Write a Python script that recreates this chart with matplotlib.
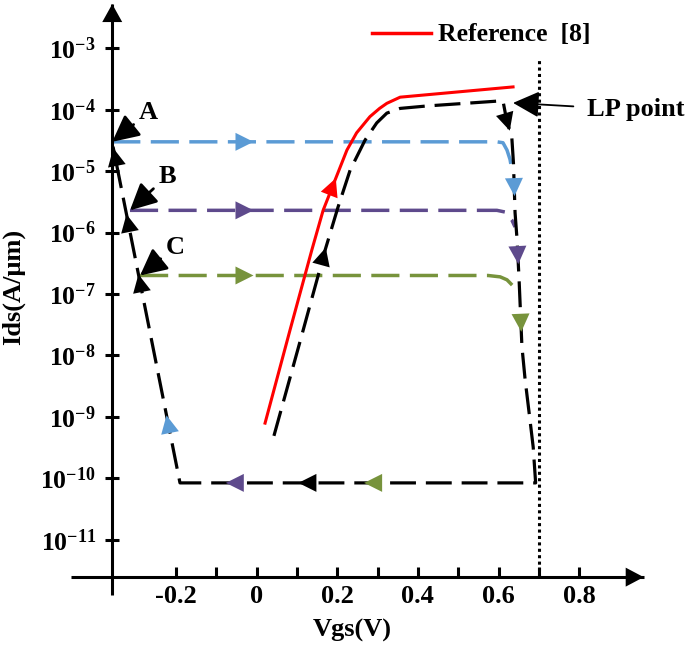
import numpy as np
import matplotlib.pyplot as plt
from matplotlib.patches import Polygon
from matplotlib.transforms import IdentityTransform
from matplotlib.lines import Line2D
from matplotlib.ticker import NullLocator

plt.rcParams.update({
    "font.family": "Liberation Serif",
    "font.weight": "bold",
    "mathtext.fontset": "custom",
    "mathtext.rm": "Liberation Serif:bold",
    "mathtext.bf": "Liberation Serif:bold",
    "mathtext.default": "bf",
})

BLUE, PURPLE, GREEN, RED = "#5B9BD5", "#5E4A8C", "#77933C", "#FF0000"

# Reference [8] transfer curve
ref_vgs = [0.021, 0.083, 0.137, 0.165, 0.190, 0.224, 0.248, 0.281, 0.305, 0.323, 0.356, 0.636]
ref_ids = [7.9e-10, 2.6e-8, 5.2e-7, 2.3e-6, 6.0e-6, 2.2e-5, 4.2e-5, 7.7e-5, 1.05e-4,
           1.27e-4, 1.6e-4, 2.35e-4]

# black dashed loop, split in pieces
rise_vgs = [0.043, 0.109, 0.170, 0.202, 0.232, 0.269, 0.298, 0.323, 0.356, 0.422, 0.611]
rise_ids = [4.9e-10, 1.8e-8, 5.2e-7, 2.6e-6, 1.04e-5, 3.2e-5, 6.1e-5, 8.8e-5, 1.05e-4, 1.15e-4, 1.4e-4]
fall_vgs = [0.611, 0.620, 0.633, 0.637, 0.641, 0.646, 0.651, 0.658, 0.666, 0.678, 0.686, 0.692]
fall_ids = [1.4e-4, 6.8e-5, 3.5e-5, 1.36e-5, 2.1e-6, 7.6e-7, 1.7e-7, 1.4e-8, 4.0e-9, 8.9e-10, 3.2e-10, 8.4e-11]
bottom_vgs = [0.692, -0.190]
bottom_ids = [8.4e-11, 8.4e-11]
left_vgs = [-0.190, -0.356]
left_ids = [8.4e-11, 2.5e-5]

# states A, B, C
a_vgs = [-0.358, 0.596, 0.611, 0.621, 0.6285, 0.633]
a_ids = [3e-5, 3e-5, 2.9e-5, 2.2e-5, 1.55e-5, 1.05e-5]
b_vgs = [-0.314, 0.596, 0.616, 0.633, 0.641]
b_ids = [2.3e-6, 2.3e-6, 2.16e-6, 1.6e-6, 1.23e-6]
c_vgs = [-0.289, 0.574, 0.604, 0.621, 0.636, 0.646]
c_ids = [2e-7, 2e-7, 1.9e-7, 1.7e-7, 1.35e-7, 1.08e-7]

lp_vgs = 0.7
lp_top = 6.9e-4
lp_point = (0.636, 1.29e-4)

decades = [-3, -4, -5, -6, -7, -8, -9, -10, -11]
xticks = [-0.2, 0, 0.2, 0.4, 0.6, 0.8]
xtick_labels = ["-0.2", "0", "0.2", "0.4", "0.6", "0.8"]
xminor = [-0.1, 0.1, 0.3, 0.5, 0.7]

fig = plt.figure(figsize=(6.85, 6.45), dpi=100)
ax = fig.add_axes([0.1038, 0.0776, 0.8359, 0.9161])
ax.set_yscale("log")
ax.set_xlim(-0.46, 0.96)
ax.set_ylim(10**-11.9, 10**-2.28)

yaxis_at = -0.358
xaxis_at = 10**-11.61
for s in ("top", "right"):
    ax.spines[s].set_visible(False)
ax.spines["left"].set_position(("data", yaxis_at))
ax.spines["bottom"].set_position(("data", xaxis_at))
for s in ("left", "bottom"):
    ax.spines[s].set_linewidth(2.2)
    ax.spines[s].set_capstyle("butt")

ax.set_yticks([10.0**e for e in decades])
ax.set_yticklabels([f"$10^{{{e}}}$" for e in decades])
ax.yaxis.set_minor_locator(NullLocator())
ax.set_xticks(xticks)
ax.set_xticklabels(xtick_labels)
ax.set_xticks(xminor, minor=True)
ax.tick_params(axis="y", which="major", direction="inout", length=9.5, width=2.2,
               labelsize=18.5, pad=7)
ax.tick_params(axis="x", which="both", direction="in", length=7.2, width=2.2,
               labelsize=19, pad=6)

dash = (8.1, 3.0)
for xs, ys, col in ((a_vgs, a_ids, BLUE), (b_vgs, b_ids, PURPLE), (c_vgs, c_ids, GREEN)):
    ax.plot(xs, ys, color=col, lw=2.5, dashes=dash, zorder=2)

loop_vgs = rise_vgs + fall_vgs[1:] + bottom_vgs[1:] + left_vgs[1:]
loop_ids = rise_ids + fall_ids[1:] + bottom_ids[1:] + left_ids[1:]
ax.plot(loop_vgs, loop_ids, color="k", lw=2.3, dashes=(8.1, 3.1), zorder=3)
ax.plot(ref_vgs, ref_ids, color=RED, lw=2.2, zorder=4)
ax.plot([lp_vgs, lp_vgs], [xaxis_at, lp_top], color="k", lw=2.2, ls=(0, (1, 1.1)), zorder=3)


def tri(c, u, color, length=18, width=18):
    u = np.asarray(u, float)
    u = u / np.hypot(*u)
    n = np.array([-u[1], u[0]])
    tip = c + u * length / 2
    base = c - u * length / 2
    fig.add_artist(Polygon([tip, base + n * width / 2, base - n * width / 2], closed=True,
                           transform=IdentityTransform(), color=color, zorder=6, lw=0))


def arrow_on(xs, ys, at, color, by="y"):
    pts = ax.transData.transform(np.column_stack([xs, ys]))
    k = 0 if by == "x" else 1
    target = ax.transData.transform((at, ys[0]) if by == "x" else (xs[0], at))[k]
    for a, b in zip(pts[:-1], pts[1:]):
        lo, hi = sorted((a[k], b[k]))
        if a[k] != b[k] and lo <= target <= hi:
            t = (target - a[k]) / (b[k] - a[k])
            tri(a + t * (b - a), b - a, color)
            return


# direction arrows along the curves
for xs, ys, col in ((a_vgs, a_ids, BLUE), (b_vgs, b_ids, PURPLE), (c_vgs, c_ids, GREEN)):
    arrow_on(xs, ys, -0.03, col, by="x")
arrow_on(fall_vgs, fall_ids, 6.3e-5, "k")
arrow_on(fall_vgs, fall_ids, 5.5e-6, BLUE)
arrow_on(fall_vgs, fall_ids, 4.3e-7, PURPLE)
arrow_on(fall_vgs, fall_ids, 3.4e-8, GREEN)
arrow_on(bottom_vgs, bottom_ids, 0.289, GREEN, by="x")
arrow_on(bottom_vgs, bottom_ids, 0.126, "k", by="x")
arrow_on(bottom_vgs, bottom_ids, -0.054, PURPLE, by="x")
arrow_on(left_vgs, left_ids, 7.6e-10, BLUE)
for v in (1.5e-7, 1.43e-6, 1.7e-5):
    arrow_on(left_vgs, left_ids, v, "k")
arrow_on(rise_vgs, rise_ids, 4.1e-7, "k")
arrow_on(ref_vgs, ref_ids, 5.6e-6, RED)

# axis arrowheads
tri(ax.transData.transform((0.96, xaxis_at)) - [9, 0], (1, 0), "k", 18, 19)
tri(ax.transData.transform((yaxis_at, 10**-2.28)) - [0, 9], (0, 1), "k", 18, 20)

# state labels
head = dict(arrowstyle="-|>,head_length=0.9,head_width=0.45", color="k", lw=2,
            shrinkA=2, shrinkB=0, mutation_scale=18)
for name, tip, pos in (("A", (a_vgs[0], a_ids[0]), (-0.269, 8.9e-5)),
                       ("B", (b_vgs[0], b_ids[0]), (-0.222, 8.3e-6)),
                       ("C", (c_vgs[0], c_ids[0]), (-0.202, 5.8e-7))):
    ax.annotate(name, xy=tip, xytext=pos, ha="center", va="center", fontsize=19,
                arrowprops=head, zorder=7)

ax.annotate("LP point", xy=lp_point, xytext=(0.82, 9.9e-5), ha="left", va="center",
            fontsize=19, annotation_clip=False,
            arrowprops=dict(arrowstyle="-|>,head_length=0.9,head_width=0.45", color="k",
                            lw=1.3, shrinkA=8, shrinkB=0, mutation_scale=18))

fig.legend([Line2D([], [], color=RED, lw=2.5)], ["Reference  [8]"], loc="center left",
           bbox_to_anchor=(372 / 685, 1 - 35 / 645), frameon=False, borderpad=0,
           borderaxespad=0, handlelength=2.3, handletextpad=0.25, fontsize=18.5)

fig.text(352 / 685, 1 - 630 / 645, "Vgs(V)", ha="center", va="center", fontsize=19)
fig.text(13 / 685, 1 - 287 / 645, "Ids(A/μm)", ha="center", va="center", fontsize=19,
         rotation=90)

fig.savefig("out.png", dpi=100)
